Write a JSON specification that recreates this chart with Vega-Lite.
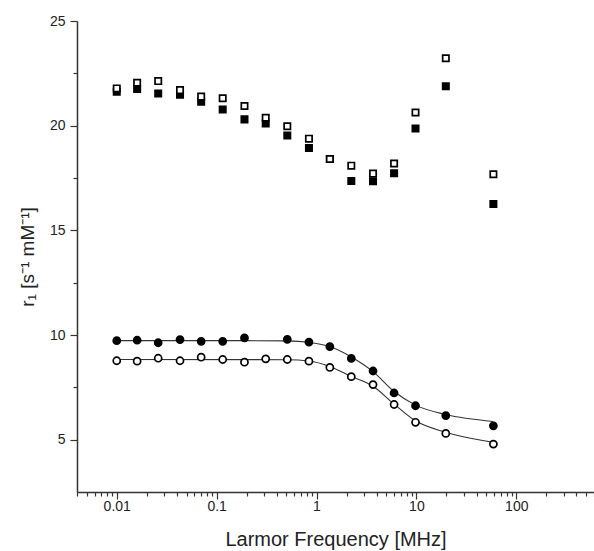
{
  "$schema": "https://vega.github.io/schema/vega-lite/v6.json",
  "width": 517,
  "height": 471,
  "autosize": {"type": "none"},
  "padding": {"left": 77, "top": 21, "right": 0, "bottom": 59},
  "background": "white",
  "config": {
    "view": {"stroke": null},
    "font": "Liberation Sans",
    "axis": {
      "domainColor": "#333333",
      "domainWidth": 1.5,
      "tickColor": "#333333",
      "tickWidth": 1.2,
      "labelColor": "#222222",
      "titleColor": "#222222",
      "labelFont": "Liberation Sans",
      "titleFont": "Liberation Sans",
      "titleFontWeight": "normal",
      "grid": false
    }
  },
  "datasets": {
    "points": [
      {"freq": 0.01, "r1": 21.62, "sample": "A", "state": "solid"},
      {"freq": 0.016, "r1": 21.75, "sample": "A", "state": "solid"},
      {"freq": 0.026, "r1": 21.54, "sample": "A", "state": "solid"},
      {"freq": 0.043, "r1": 21.48, "sample": "A", "state": "solid"},
      {"freq": 0.07, "r1": 21.14, "sample": "A", "state": "solid"},
      {"freq": 0.115, "r1": 20.77, "sample": "A", "state": "solid"},
      {"freq": 0.19, "r1": 20.3, "sample": "A", "state": "solid"},
      {"freq": 0.31, "r1": 20.1, "sample": "A", "state": "solid"},
      {"freq": 0.51, "r1": 19.53, "sample": "A", "state": "solid"},
      {"freq": 0.84, "r1": 18.93, "sample": "A", "state": "solid"},
      {"freq": 1.36, "r1": 18.41, "sample": "A", "state": "solid"},
      {"freq": 2.23, "r1": 17.36, "sample": "A", "state": "solid"},
      {"freq": 3.68, "r1": 17.34, "sample": "A", "state": "solid"},
      {"freq": 5.98, "r1": 17.73, "sample": "A", "state": "solid"},
      {"freq": 9.8, "r1": 19.87, "sample": "A", "state": "solid"},
      {"freq": 19.7, "r1": 21.88, "sample": "A", "state": "solid"},
      {"freq": 59, "r1": 16.26, "sample": "A", "state": "solid"},
      {"freq": 0.01, "r1": 9.73, "sample": "B", "state": "solid"},
      {"freq": 0.016, "r1": 9.75, "sample": "B", "state": "solid"},
      {"freq": 0.026, "r1": 9.63, "sample": "B", "state": "solid"},
      {"freq": 0.043, "r1": 9.78, "sample": "B", "state": "solid"},
      {"freq": 0.07, "r1": 9.7, "sample": "B", "state": "solid"},
      {"freq": 0.115, "r1": 9.7, "sample": "B", "state": "solid"},
      {"freq": 0.19, "r1": 9.86, "sample": "B", "state": "solid"},
      {"freq": 0.51, "r1": 9.79, "sample": "B", "state": "solid"},
      {"freq": 0.84, "r1": 9.66, "sample": "B", "state": "solid"},
      {"freq": 1.36, "r1": 9.44, "sample": "B", "state": "solid"},
      {"freq": 2.23, "r1": 8.88, "sample": "B", "state": "solid"},
      {"freq": 3.68, "r1": 8.28, "sample": "B", "state": "solid"},
      {"freq": 5.98, "r1": 7.23, "sample": "B", "state": "solid"},
      {"freq": 9.8, "r1": 6.62, "sample": "B", "state": "solid"},
      {"freq": 19.7, "r1": 6.15, "sample": "B", "state": "solid"},
      {"freq": 59, "r1": 5.66, "sample": "B", "state": "solid"},
      {"freq": 0.01, "r1": 21.78, "sample": "A", "state": "open"},
      {"freq": 0.016, "r1": 22.05, "sample": "A", "state": "open"},
      {"freq": 0.026, "r1": 22.13, "sample": "A", "state": "open"},
      {"freq": 0.043, "r1": 21.7, "sample": "A", "state": "open"},
      {"freq": 0.07, "r1": 21.39, "sample": "A", "state": "open"},
      {"freq": 0.115, "r1": 21.31, "sample": "A", "state": "open"},
      {"freq": 0.19, "r1": 20.94, "sample": "A", "state": "open"},
      {"freq": 0.31, "r1": 20.38, "sample": "A", "state": "open"},
      {"freq": 0.51, "r1": 19.97, "sample": "A", "state": "open"},
      {"freq": 0.84, "r1": 19.38, "sample": "A", "state": "open"},
      {"freq": 1.36, "r1": 18.41, "sample": "A", "state": "open"},
      {"freq": 2.23, "r1": 18.09, "sample": "A", "state": "open"},
      {"freq": 3.68, "r1": 17.71, "sample": "A", "state": "open"},
      {"freq": 5.98, "r1": 18.19, "sample": "A", "state": "open"},
      {"freq": 9.8, "r1": 20.63, "sample": "A", "state": "open"},
      {"freq": 19.7, "r1": 23.22, "sample": "A", "state": "open"},
      {"freq": 59, "r1": 17.68, "sample": "A", "state": "open"},
      {"freq": 0.01, "r1": 8.77, "sample": "B", "state": "open"},
      {"freq": 0.016, "r1": 8.75, "sample": "B", "state": "open"},
      {"freq": 0.026, "r1": 8.89, "sample": "B", "state": "open"},
      {"freq": 0.043, "r1": 8.77, "sample": "B", "state": "open"},
      {"freq": 0.07, "r1": 8.94, "sample": "B", "state": "open"},
      {"freq": 0.115, "r1": 8.83, "sample": "B", "state": "open"},
      {"freq": 0.19, "r1": 8.7, "sample": "B", "state": "open"},
      {"freq": 0.31, "r1": 8.86, "sample": "B", "state": "open"},
      {"freq": 0.51, "r1": 8.83, "sample": "B", "state": "open"},
      {"freq": 0.84, "r1": 8.75, "sample": "B", "state": "open"},
      {"freq": 1.36, "r1": 8.45, "sample": "B", "state": "open"},
      {"freq": 2.23, "r1": 8.01, "sample": "B", "state": "open"},
      {"freq": 3.68, "r1": 7.63, "sample": "B", "state": "open"},
      {"freq": 5.98, "r1": 6.68, "sample": "B", "state": "open"},
      {"freq": 9.8, "r1": 5.83, "sample": "B", "state": "open"},
      {"freq": 19.7, "r1": 5.3, "sample": "B", "state": "open"},
      {"freq": 59, "r1": 4.79, "sample": "B", "state": "open"}
    ],
    "fit": [
      {"freq": 0.01, "r1": 9.73, "state": "solid"},
      {"freq": 0.19, "r1": 9.73, "state": "solid"},
      {"freq": 0.51, "r1": 9.72, "state": "solid"},
      {"freq": 0.84, "r1": 9.65, "state": "solid"},
      {"freq": 1.36, "r1": 9.45, "state": "solid"},
      {"freq": 2.23, "r1": 8.95, "state": "solid"},
      {"freq": 3.68, "r1": 8.25, "state": "solid"},
      {"freq": 5.98, "r1": 7.3, "state": "solid"},
      {"freq": 9.8, "r1": 6.65, "state": "solid"},
      {"freq": 19.7, "r1": 6.2, "state": "solid"},
      {"freq": 59, "r1": 5.87, "state": "solid"},
      {"freq": 0.01, "r1": 8.83, "state": "open"},
      {"freq": 0.51, "r1": 8.82, "state": "open"},
      {"freq": 0.84, "r1": 8.76, "state": "open"},
      {"freq": 1.36, "r1": 8.5, "state": "open"},
      {"freq": 2.23, "r1": 8.02, "state": "open"},
      {"freq": 3.68, "r1": 7.55, "state": "open"},
      {"freq": 5.98, "r1": 6.7, "state": "open"},
      {"freq": 9.8, "r1": 5.9, "state": "open"},
      {"freq": 19.7, "r1": 5.35, "state": "open"},
      {"freq": 59, "r1": 4.87, "state": "open"}
    ]
  },
  "encoding": {
    "x": {
      "field": "freq",
      "type": "quantitative",
      "scale": {"type": "log", "domain": [0.004, 600], "nice": false},
      "axis": {
        "title": "Larmor Frequency [MHz]",
        "titleFontSize": 20,
        "titlePadding": 16,
        "labelFontSize": 14,
        "labelPadding": 0,
        "labelOverlap": false,
        "labelFlush": false,
        "values": [0.004, 0.005, 0.006, 0.007, 0.008, 0.009, 0.01, 0.02, 0.03, 0.04, 0.05, 0.06, 0.07, 0.08, 0.09, 0.1, 0.2, 0.3, 0.4, 0.5, 0.6, 0.7, 0.8, 0.9, 1, 2, 3, 4, 5, 6, 7, 8, 9, 10, 20, 30, 40, 50, 60, 70, 80, 90, 100, 200, 300, 400, 500, 600],
        "labelExpr": "abs(log(datum.value)/LN10 - round(log(datum.value)/LN10)) < 0.000001 ? format(datum.value, '~g') : ''",
        "tickSize": {"condition": {"test": "abs(log(datum.value)/LN10 - round(log(datum.value)/LN10)) < 0.000001", "value": 7}, "value": 4}
      }
    },
    "y": {
      "field": "r1",
      "type": "quantitative",
      "scale": {"domain": [2.5, 25], "nice": false, "zero": false},
      "axis": {
        "title": "r₁ [s⁻¹ mM⁻¹]",
        "titleFontSize": 19,
        "titlePadding": 12,
        "labelFontSize": 14,
        "labelPadding": 5,
        "labelOverlap": false,
        "labelFlush": false,
        "values": [5, 7.5, 10, 12.5, 15, 17.5, 20, 22.5, 25],
        "labelExpr": "datum.value % 5 == 0 ? datum.label : ''",
        "tickSize": {"condition": {"test": "datum.value % 5 == 0", "value": 7}, "value": 4}
      }
    }
  },
  "layer": [
    {
      "data": {"name": "fit"},
      "mark": {"type": "line", "interpolate": "monotone", "color": "#333333", "strokeWidth": 1.1},
      "encoding": {"detail": {"field": "state"}}
    },
    {
      "data": {"name": "points"},
      "mark": {"type": "point", "filled": false, "stroke": "black", "strokeWidth": 1.7, "opacity": 1},
      "encoding": {
        "shape": {"field": "sample", "type": "nominal", "scale": {"domain": ["A", "B"], "range": ["square", "circle"]}, "legend": null},
        "fill": {"field": "state", "type": "nominal", "scale": {"domain": ["solid", "open"], "range": ["black", "white"]}, "legend": null},
        "size": {"field": "sample", "type": "nominal", "scale": {"domain": ["A", "B"], "range": [40, 50]}, "legend": null}
      }
    }
  ]
}
